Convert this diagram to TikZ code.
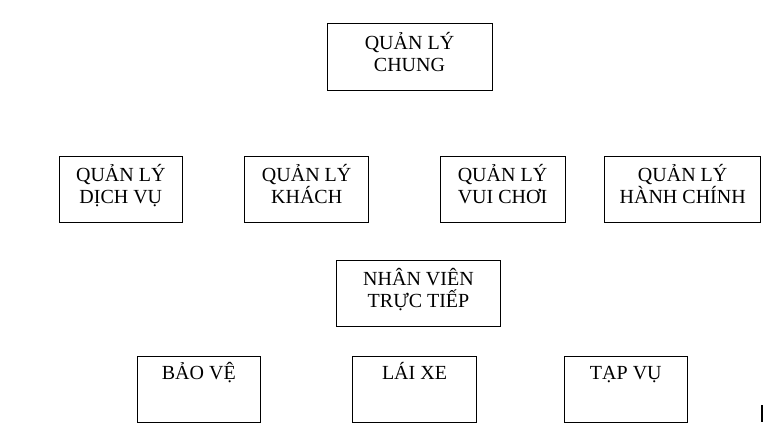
\documentclass[tikz,border=0pt]{standalone}
\usepackage{fontspec}
\setmainfont{Liberation Serif}
\begin{document}
\begin{tikzpicture}[x=0.75pt,y=-0.75pt,
    hop/.style={draw,line width=0.75pt,inner sep=0pt,minimum height=66*0.75pt},
    chu/.style={anchor=base,align=center,inner sep=0pt,font=\fontsize{15}{16.2}\selectfont}]
    \useasboundingbox (0,0) rectangle (777,433);
    % hang tren cung
    \node[hop,minimum width=165*0.75pt,minimum height=67*0.75pt] (chung) at (409.5,56.5) {};
    \node[chu] (chungchu) at (409.5,71.3) {QUẢN LÝ\\CHUNG};

    % cac bo phan quan ly
    \node[hop,minimum width=123.5*0.75pt] (dichvu) at (120.8,189) {};
    \node[chu] (dichvuchu) at (120.8,203.3) {QUẢN LÝ\\DỊCH VỤ};
    \node[hop,minimum width=124.5*0.75pt] (khach) at (306.7,189) {};
    \node[chu] (khachchu) at (306.7,203.3) {QUẢN LÝ\\KHÁCH};
    \node[hop,minimum width=125*0.75pt] (vuichoi) at (502.5,189) {};
    \node[chu] (vuichoichu) at (502.5,203.3) {QUẢN LÝ\\VUI CHƠI};
    \node[hop,minimum width=155.5*0.75pt] (hanhchinh) at (682.7,189) {};
    \node[chu] (hanhchinhchu) at (682.7,203.3) {QUẢN LÝ\\HÀNH CHÍNH};

    % nhan vien
    \node[hop,minimum width=164.4*0.75pt] (nhanvien) at (418.5,293.3) {};
    \node[chu] (nhanvienchu) at (418.5,307.3) {NHÂN VIÊN\\TRỰC TIẾP};

    \node[hop,minimum width=123*0.75pt] (baove) at (198.8,389.3) {};
    \node[chu] (baovechu) at (198.8,379.3) {BẢO VỆ};
    \node[hop,minimum width=124.4*0.75pt] (laixe) at (414.5,389.3) {};
    \node[chu] (laixechu) at (414.5,379.3) {LÁI XE};
    \node[hop,minimum width=123*0.75pt] (tapvu) at (625.8,389.3) {};
    \node[chu] (tapvuchu) at (625.8,379.3) {TẠP VỤ};

    \draw[line width=1pt] (762,405) -- (762,422);
\end{tikzpicture}
\end{document}
